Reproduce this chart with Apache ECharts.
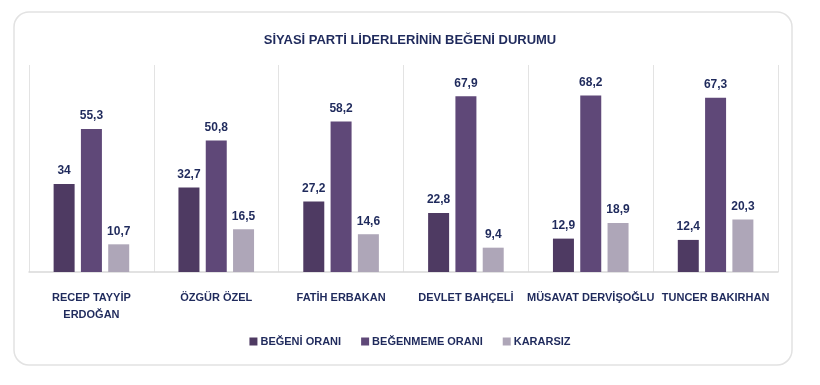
<!DOCTYPE html>
<html><head><meta charset="utf-8">
<script src="https://cdn.jsdelivr.net/npm/echarts@6/dist/echarts.min.js"></script>
<style>html,body{margin:0;padding:0;background:#fff}#c{width:820px;height:385px}</style>
</head><body><div id="c"></div>
<script>
const categories = ['RECEP TAYYİP\nERDOĞAN','ÖZGÜR ÖZEL','FATİH ERBAKAN','DEVLET BAHÇELİ','MÜSAVAT DERVİŞOĞLU','TUNCER BAKIRHAN'];
const begeni = [34, 32.7, 27.2, 22.8, 12.9, 12.4];
const begenmeme = [55.3, 50.8, 58.2, 67.9, 68.2, 67.3];
const kararsiz = [10.7, 16.5, 14.6, 9.4, 18.9, 20.3];
const seriesNames = ['BEĞENİ ORANI','BEĞENMEME ORANI','KARARSIZ'];
const colors = ['#4e3a62','#5f4878','#aea6b8'];
const txt = '#1f2a5c';
const font = '"Liberation Sans", Arial, sans-serif';
const chart = echarts.init(document.getElementById('c'), null, {renderer:'canvas'});
const mk = (name, data, i) => ({
  name, type:'bar', data, barWidth:21, barGap:'30%',
  itemStyle:{color:colors[i]},
  label:{show:true, position:'top', distance:7, color:txt, fontWeight:'bold', fontSize:12, fontFamily:font,
    formatter:p=>String(p.value).replace('.',',')}
});
chart.setOption({
  animation:false,
  graphic:[{type:'rect', shape:{x:14,y:12,width:778,height:353,r:15}, style:{fill:'none', stroke:'#e2e2e2', lineWidth:1.5}, z:-1}],
  title:{text:'SİYASİ PARTİ LİDERLERİNİN BEĞENİ DURUMU', left:405, textAlign:'center', top:29,
    textStyle:{color:txt, fontSize:13, fontWeight:'bold', fontFamily:font}},
  legend:{data:seriesNames, bottom:33, left:'center', itemWidth:8, itemHeight:8, itemGap:20, icon:'rect',
    textStyle:{color:txt, fontSize:11, fontWeight:'bold', fontFamily:font, padding:[0,0,0,-2]}},
  grid:{left:29, right:42, top:65, bottom:113},
  xAxis:{type:'category', data:categories, boundaryGap:true,
    axisLine:{lineStyle:{color:'#d9d9d9', width:1.5}}, axisTick:{show:false},
    splitLine:{show:true, lineStyle:{color:'#e3e3e3', width:1}},
    axisLabel:{color:txt, fontWeight:'bold', fontSize:11, fontFamily:font, margin:17, lineHeight:17, interval:0}},
  yAxis:{type:'value', min:0, max:80, show:false, splitLine:{show:false}},
  series:[mk(seriesNames[0],begeni,0), mk(seriesNames[1],begenmeme,1), mk(seriesNames[2],kararsiz,2)]
});
</script></body></html>
